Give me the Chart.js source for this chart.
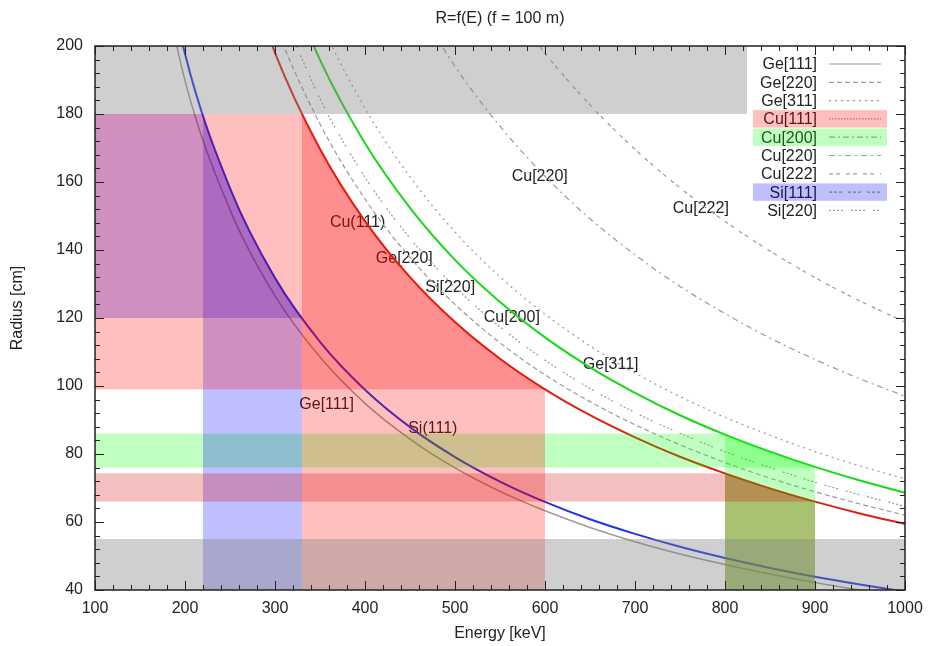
<!DOCTYPE html>
<html>
<head>
<meta charset="utf-8">
<script src="https://cdn.jsdelivr.net/npm/chart.js@4.4.1/dist/chart.umd.min.js"></script>
<style>
  html, body { margin: 0; padding: 0; background: #fff; }
</style>
</head>
<body>
<canvas id="canva" width="928" height="646"></canvas>
<script>
var FONT = "'Liberation Sans', Arial, sans-serif";
Chart.defaults.font.family = FONT;
Chart.defaults.font.size = 16;
Chart.defaults.color = '#222';

// energy grid [keV]
var energy = [100, 150, 200, 250, 300, 350, 400, 450, 500, 550, 600, 650, 700, 750, 800, 850, 900, 950, 1000];

// radius [cm] (null = far above the plot)
var ge111 = [null, 253.1, 189.8, 151.8, 126.5, 108.5, 94.9, 84.4, 75.9, 69.0, 63.3, 58.4, 54.2, 50.6, 47.5, 44.7, 42.2, 40.0, 38.0];
var ge220 = [null, null, null, 248.0, 206.6, 177.1, 155.0, 137.8, 124.0, 112.7, 103.3, 95.4, 88.6, 82.7, 77.5, 72.9, 68.9, 65.3, 62.0];
var ge311 = [null, null, null, null, 242.2, 207.6, 181.7, 161.5, 145.3, 132.1, 121.1, 111.8, 103.8, 96.9, 90.8, 85.5, 80.7, 76.5, 72.7];
var cu111 = [null, null, null, 237.6, 198.0, 169.7, 148.5, 132.0, 118.8, 108.0, 99.0, 91.4, 84.9, 79.2, 74.3, 69.9, 66.0, 62.5, 59.4];
var cu200 = [null, null, null, null, 228.6, 195.9, 171.4, 152.4, 137.1, 124.7, 114.3, 105.5, 98.0, 91.4, 85.7, 80.7, 76.2, 72.2, 68.6];
var cu220 = [null, null, null, null, null, null, null, 215.6, 194.0, 176.4, 161.7, 149.2, 138.6, 129.3, 121.3, 114.1, 107.8, 102.1, 97.0];
var cu222 = [null, null, null, null, null, null, null, null, null, 215.9, 197.9, 182.7, 169.6, 158.3, 148.4, 139.7, 131.9, 125.0, 118.8];
var si111 = [null, 263.6, 197.7, 158.2, 131.8, 113.0, 98.9, 87.9, 79.1, 71.9, 65.9, 60.8, 56.5, 52.7, 49.4, 46.5, 43.9, 41.6, 39.5];
var si220 = [null, null, null, null, 215.2, 184.5, 161.4, 143.5, 129.1, 117.4, 107.6, 99.3, 92.2, 86.1, 80.7, 76.0, 71.7, 68.0, 64.6];

// labels written on the plot (keV, cm of the text start)
var noteText = ['Cu(111)', 'Ge[220]', 'Si[220]', 'Cu[200]', 'Cu[220]', 'Cu[222]', 'Ge[311]', 'Ge[111]', 'Si(111)'];
var noteE = [361, 412, 467, 532, 563, 742, 642, 327, 448];
var noteR = [148.2, 137.6, 128.8, 120.0, 161.5, 152.1, 106.2, 94.4, 87.6];

// highlighted windows: energy band + radius band under a curve
var hlCurve = ['Cu[200]', 'Si[111]', 'Cu[111]', 'Cu[111]'];
var hlEmin = [800, 220, 330, 800];
var hlEmax = [900, 330, 600, 900];
var hlRmin = [76, 120, 99, 66];
var hlRmax = [86, 180, 180, 74.3];
var hlColorV = ['rgba(0,255,0,0.25)', 'rgba(0,0,255,0.25)', 'rgba(255,0,0,0.25)', 'rgba(140,120,20,0.45)'];
var hlColorH = ['rgba(0,255,0,0.25)', 'rgba(0,0,255,0.25)', 'rgba(255,0,0,0.25)', 'rgba(210,0,0,0.25)'];

// excluded radius ranges (gray)
var grayFrom = [180, 40];
var grayTo = [200, 55];

var curves = [
  { label: 'Cu[111]', data: cu111, color: '#dd2211', width: 2, dash: [] },
  { label: 'Cu[200]', data: cu200, color: '#18d818', width: 2, dash: [] },
  { label: 'Si[111]', data: si111, color: '#2233e6', width: 2, dash: [] },
  { label: 'Ge[111]', data: ge111, color: '#9c9c9c', width: 1.5, dash: [] },
  { label: 'Ge[220]', data: ge220, color: '#9a9a9a', width: 1.2, dash: [5, 3] },
  { label: 'Ge[311]', data: ge311, color: '#9a9a9a', width: 1.2, dash: [2, 4] },
  { label: 'Cu[220]', data: cu220, color: '#9a9a9a', width: 1.2, dash: [6, 4, 2, 4] },
  { label: 'Cu[222]', data: cu222, color: '#9a9a9a', width: 1.2, dash: [4, 3, 4, 6] },
  { label: 'Si[220]', data: si220, color: '#9a9a9a', width: 1.2, dash: [2, 2, 2, 2, 2, 2, 2, 8] }
];

var legendItems = [
  { t: 'Ge[111]', dash: [] },
  { t: 'Ge[220]', dash: [5, 3] },
  { t: 'Ge[311]', dash: [2, 4] },
  { t: 'Cu[111]', dash: [1.5, 1.5], box: 'rgba(255,0,0,0.25)' },
  { t: 'Cu[200]', dash: [6, 3, 2, 3], box: 'rgba(0,255,0,0.25)' },
  { t: 'Cu[220]', dash: [6, 4, 2, 4] },
  { t: 'Cu[222]', dash: [4, 3, 4, 6] },
  { t: 'Si[111]', dash: [3, 2, 3, 2, 3, 6], box: 'rgba(0,0,255,0.25)' },
  { t: 'Si[220]', dash: [2, 2, 2, 2, 2, 2, 2, 8] }
];

function toPoints(arr) {
  return energy.map(function (e, i) { return { x: e, y: arr[i] }; })
    .filter(function (p) { return p.y !== null; });
}

function curveIndex(chart, name) {
  return chart.data.datasets.findIndex(function (d) { return d.label === name; });
}

// labels sit under the curves and fills
var notesPlugin = {
  id: 'notes',
  beforeDatasetsDraw: function (chart) {
    var c = chart.ctx, xs = chart.scales.x, ys = chart.scales.y;
    c.save();
    c.font = '16px ' + FONT;
    c.fillStyle = '#222';
    c.textAlign = 'left';
    c.textBaseline = 'middle';
    for (var i = 0; i < noteText.length; i++) {
      c.fillText(noteText[i], xs.getPixelForValue(noteE[i]), ys.getPixelForValue(noteR[i]));
    }
    c.restore();
  }
};

// transparent windows drawn over the curves, then the legend box
var fillsPlugin = {
  id: 'fills',
  afterDatasetsDraw: function (chart) {
    var c = chart.ctx, a = chart.chartArea, xs = chart.scales.x, ys = chart.scales.y;
    c.save();
    c.beginPath();
    c.rect(a.left, a.top, a.right - a.left, a.bottom - a.top);
    c.clip();

    for (var i = 0; i < hlCurve.length; i++) {
      var meta = chart.getDatasetMeta(curveIndex(chart, hlCurve[i]));
      var pts = meta.data;
      var first = pts[0], last = pts[pts.length - 1];
      c.save();
      c.beginPath();
      meta.dataset.path(c);
      c.lineTo(last.x, a.bottom + 50);
      c.lineTo(a.left - 50, a.bottom + 50);
      c.lineTo(a.left - 50, first.y);
      c.closePath();
      c.clip();
      var x1 = xs.getPixelForValue(hlEmin[i]), x2 = xs.getPixelForValue(hlEmax[i]);
      c.fillStyle = hlColorV[i];
      c.fillRect(x1, a.top - 10, x2 - x1, a.bottom - a.top + 20);
      var y1 = ys.getPixelForValue(hlRmax[i]), y2 = ys.getPixelForValue(hlRmin[i]);
      c.fillStyle = hlColorH[i];
      c.fillRect(a.left, y1, x2 - a.left, y2 - y1);
      c.restore();
    }

    c.fillStyle = 'rgba(128,128,128,0.38)';
    for (var g = 0; g < grayFrom.length; g++) {
      var ga = ys.getPixelForValue(grayTo[g]), gb = ys.getPixelForValue(grayFrom[g]);
      c.fillRect(a.left, ga, a.right - a.left, gb - ga);
    }
    c.restore();

    // legend
    c.save();
    var lx = 747, ly = a.top, rowH = 18.3, y0 = a.top + 18;
    c.fillStyle = '#fff';
    c.fillRect(lx, ly, a.right - lx, 176);
    c.font = '16px ' + FONT;
    c.textAlign = 'right';
    c.textBaseline = 'middle';
    legendItems.forEach(function (it, k) {
      var y = y0 + k * rowH;
      c.fillStyle = '#222';
      c.fillText(it.t, 817, y + 1);
      c.strokeStyle = '#9a9a9a';
      c.lineWidth = 1.2;
      c.setLineDash(it.dash);
      c.beginPath();
      c.moveTo(829, y);
      c.lineTo(881, y);
      c.stroke();
      c.setLineDash([]);
      if (it.box) {
        c.fillStyle = it.box;
        c.fillRect(753, y - 8.7, 134, 17.4);
      }
    });
    c.restore();
  }
};

// gnuplot-style frame, inward ticks and titles
var framePlugin = {
  id: 'frame',
  afterDraw: function (chart) {
    var c = chart.ctx, a = chart.chartArea, xs = chart.scales.x, ys = chart.scales.y;
    c.save();
    c.strokeStyle = '#222';
    c.lineWidth = 1;
    c.beginPath();
    for (var e = 100; e <= 1000; e += 20) {
      var px = Math.round(xs.getPixelForValue(e)) + 0.5;
      var len = (e % 100 === 0) ? 9 : 5;
      c.moveTo(px, a.bottom); c.lineTo(px, a.bottom - len);
      c.moveTo(px, a.top); c.lineTo(px, a.top + len);
    }
    for (var r = 40; r <= 200; r += 4) {
      var py = Math.round(ys.getPixelForValue(r)) + 0.5;
      var l2 = (r % 20 === 0) ? 9 : 5;
      c.moveTo(a.left, py); c.lineTo(a.left + l2, py);
      c.moveTo(a.right, py); c.lineTo(a.right - l2, py);
    }
    c.stroke();
    c.lineWidth = 1.5;
    c.strokeRect(a.left, a.top, a.right - a.left, a.bottom - a.top);

    c.fillStyle = '#222';
    c.font = '16px ' + FONT;
    c.textAlign = 'center';
    c.textBaseline = 'middle';
    var cx = (a.left + a.right) / 2;
    c.fillText('R=f(E) (f = 100 m)', cx, 19);
    c.fillText('Energy [keV]', cx, 634);
    c.translate(18, 308);
    c.rotate(-Math.PI / 2);
    c.fillText('Radius [cm]', 0, 0);
    c.restore();
  }
};

new Chart(document.getElementById('canva'), {
  type: 'line',
  data: {
    datasets: curves.map(function (cv) {
      return {
        label: cv.label,
        data: toPoints(cv.data),
        borderColor: cv.color,
        borderWidth: cv.width,
        borderDash: cv.dash,
        fill: false,
        pointRadius: 0,
        cubicInterpolationMode: 'monotone'
      };
    })
  },
  options: {
    responsive: false,
    animation: false,
    devicePixelRatio: 1,
    layout: { padding: { top: 46, right: 23, left: 0, bottom: 0 } },
    elements: { line: { capBezierPoints: false } },
    plugins: {
      legend: { display: false },
      title: { display: false },
      tooltip: { enabled: false }
    },
    scales: {
      x: {
        type: 'linear',
        min: 100,
        max: 1000,
        ticks: { stepSize: 100, padding: 9, color: '#222', callback: function (v) { return String(v); } },
        grid: { display: false, drawTicks: false },
        border: { display: false },
        afterFit: function (s) { s.height = 56; s.paddingRight = 0; s.paddingLeft = 0; }
      },
      y: {
        type: 'linear',
        min: 40,
        max: 200,
        ticks: { stepSize: 20, padding: 12, color: '#222', callback: function (v) { return String(v); } },
        grid: { display: false, drawTicks: false },
        border: { display: false },
        afterFit: function (s) { s.width = 95; }
      }
    }
  },
  plugins: [notesPlugin, fillsPlugin, framePlugin]
});
</script>
</body>
</html>
